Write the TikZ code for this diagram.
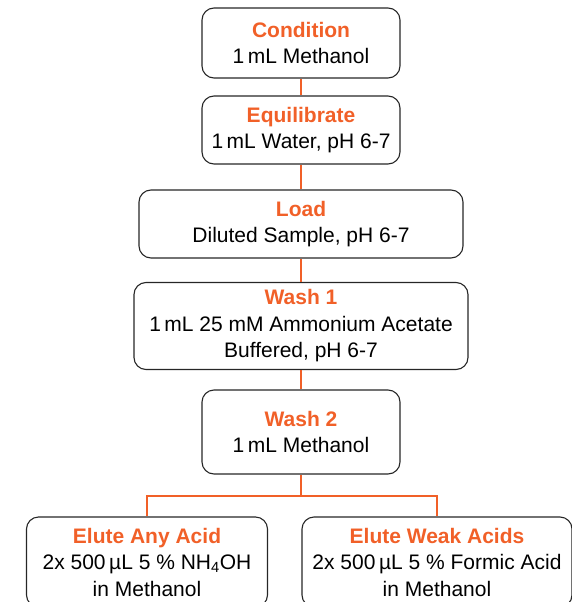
\documentclass[tikz,border=0pt]{standalone}
\usepackage{fontspec}
\setmainfont{Liberation Sans}
\definecolor{spe}{RGB}{241,96,40}
\tikzset{
  stepbox/.style={draw=black!85, line width=1.1pt, rounded corners=12pt,
    align=center, inner sep=2pt, font=\fontsize{21}{26.5}\selectfont},
  link/.style={draw=spe, line width=1.3pt},
}
\newcommand{\stage}[1]{\textcolor{spe}{\bfseries #1}}
\begin{document}
\begin{tikzpicture}[x=1pt,y=-1pt]  % ------ SPE protocol -----------
  \useasboundingbox (0,0) rectangle (572,602);
  \node[stepbox, minimum width=198pt, minimum height=70pt] (cond) at (301,43)
    {\stage{Condition}\\1\,mL Methanol};
  \node[stepbox, minimum width=198pt, minimum height=68pt] (equi) at (301,130)
    {\stage{Equilibrate}\\1\,mL Water, pH 6-7};
  \node[stepbox, minimum width=324pt, minimum height=68pt] (load) at (301,224)
    {\stage{Load}\\Diluted Sample, pH 6-7};
  \node[stepbox, minimum width=334pt, minimum height=87pt] (washa) at (301,326)
    {\stage{Wash 1}\\1\,mL 25 mM Ammonium Acetate\\Buffered, pH 6-7};
  \node[stepbox, minimum width=198pt, minimum height=84pt] (washb) at (301,432)
    {\stage{Wash 2}\\1\,mL Methanol};
  \node[stepbox, minimum width=241pt, minimum height=90pt] (eluany) at (147,562)
    {\stage{Elute Any Acid}\\2x 500\,µL 5 \% NH\textsubscript{4}OH\\in Methanol};
  \node[stepbox, minimum width=270pt, minimum height=90pt] (eluweak) at (437,562)
    {\stage{Elute Weak Acids}\\2x 500\,µL 5 \% Formic Acid\\in Methanol};
  \coordinate (split) at (301,496);
  \draw[link] (cond) -- (equi);
  \draw[link] (equi) -- (load);
  \draw[link] (load) -- (washa);
  \draw[link] (washa) -- (washb);
  \draw[link] (washb) -- (split);
  \draw[link] (eluany.north) |- (split) -| (eluweak.north);
\end{tikzpicture}
\end{document}
